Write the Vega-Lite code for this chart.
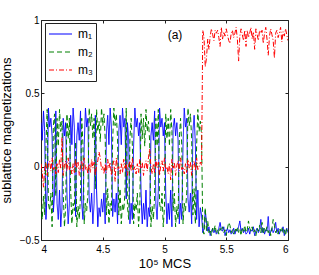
{
"$schema": "https://vega.github.io/schema/vega-lite/v6.json",
"width": 247, "height": 220,
"autosize": {"type": "none"},
"padding": {"left": 41, "top": 20, "right": 31, "bottom": 35},
"background": "white",
"config": {
  "font": "Liberation Sans",
  "view": {"stroke": "#222", "strokeWidth": 1},
  "axis": {"grid": false, "domain": false, "tickColor": "#222", "tickSize": -3, "labelColor": "#000", "titleColor": "#000", "labelFontSize": 10, "titleFontSize": 13, "titleFontWeight": "normal", "labelFont": "Liberation Sans", "titleFont": "Liberation Sans"}
},
"data": {"values": [
{"x":4.00,"m1":0.30,"m2":-0.27,"m3":0.02},
{"x":4.01,"m1":0.18,"m2":-0.36,"m3":-0.04},
{"x":4.02,"m1":0.38,"m2":-0.20,"m3":-0.14},
{"x":4.03,"m1":0.24,"m2":-0.33,"m3":-0.01},
{"x":4.04,"m1":-0.36,"m2":0.14,"m3":0.03},
{"x":4.05,"m1":-0.16,"m2":0.39,"m3":-0.06},
{"x":4.06,"m1":0.40,"m2":-0.25,"m3":0.01},
{"x":4.07,"m1":0.27,"m2":-0.30,"m3":0.04},
{"x":4.08,"m1":0.33,"m2":-0.18,"m3":-0.03},
{"x":4.09,"m1":0.21,"m2":-0.41,"m3":0.06},
{"x":4.10,"m1":-0.31,"m2":0.28,"m3":-0.02},
{"x":4.11,"m1":-0.18,"m2":0.36,"m3":0.00},
{"x":4.12,"m1":0.38,"m2":-0.20,"m3":-0.05},
{"x":4.13,"m1":-0.25,"m2":0.33,"m3":0.02},
{"x":4.14,"m1":-0.36,"m2":0.14,"m3":-0.04},
{"x":4.15,"m1":-0.16,"m2":0.39,"m3":0.05},
{"x":4.16,"m1":-0.41,"m2":0.24,"m3":-0.01},
{"x":4.17,"m1":-0.28,"m2":0.31,"m3":0.20},
{"x":4.18,"m1":0.33,"m2":-0.18,"m3":-0.06},
{"x":4.19,"m1":0.21,"m2":-0.41,"m3":0.01},
{"x":4.20,"m1":0.30,"m2":-0.27,"m3":0.04},
{"x":4.21,"m1":-0.18,"m2":0.36,"m3":-0.03},
{"x":4.22,"m1":-0.39,"m2":0.19,"m3":0.06},
{"x":4.23,"m1":-0.25,"m2":0.33,"m3":-0.02},
{"x":4.24,"m1":0.35,"m2":-0.15,"m3":0.00},
{"x":4.25,"m1":0.15,"m2":-0.39,"m3":-0.05},
{"x":4.26,"m1":0.40,"m2":-0.25,"m3":0.02},
{"x":4.27,"m1":0.27,"m2":-0.30,"m3":-0.04},
{"x":4.28,"m1":-0.34,"m2":0.17,"m3":0.05},
{"x":4.29,"m1":0.21,"m2":-0.41,"m3":-0.01},
{"x":4.30,"m1":0.30,"m2":-0.27,"m3":0.03},
{"x":4.31,"m1":0.18,"m2":-0.36,"m3":-0.06},
{"x":4.32,"m1":0.38,"m2":-0.20,"m3":0.01},
{"x":4.33,"m1":-0.25,"m2":0.33,"m3":0.04},
{"x":4.34,"m1":-0.36,"m2":0.14,"m3":-0.03},
{"x":4.35,"m1":0.15,"m2":-0.39,"m3":0.06},
{"x":4.36,"m1":0.40,"m2":-0.25,"m3":-0.02},
{"x":4.37,"m1":0.27,"m2":-0.30,"m3":0.00},
{"x":4.38,"m1":0.33,"m2":-0.18,"m3":-0.05},
{"x":4.39,"m1":-0.22,"m2":0.40,"m3":0.02},
{"x":4.40,"m1":-0.31,"m2":0.28,"m3":-0.04},
{"x":4.41,"m1":-0.18,"m2":0.36,"m3":0.05},
{"x":4.42,"m1":-0.39,"m2":0.19,"m3":-0.01},
{"x":4.43,"m1":-0.25,"m2":0.33,"m3":0.03},
{"x":4.44,"m1":0.35,"m2":-0.15,"m3":-0.06},
{"x":4.45,"m1":-0.16,"m2":0.39,"m3":0.01},
{"x":4.46,"m1":-0.41,"m2":0.24,"m3":0.04},
{"x":4.47,"m1":-0.28,"m2":0.31,"m3":0.10},
{"x":4.48,"m1":-0.34,"m2":0.17,"m3":0.06},
{"x":4.49,"m1":-0.22,"m2":0.40,"m3":-0.02},
{"x":4.50,"m1":-0.31,"m2":0.28,"m3":0.00},
{"x":4.51,"m1":-0.18,"m2":0.36,"m3":-0.05},
{"x":4.52,"m1":-0.39,"m2":0.19,"m3":0.02},
{"x":4.53,"m1":0.24,"m2":-0.33,"m3":-0.04},
{"x":4.54,"m1":0.35,"m2":-0.15,"m3":0.05},
{"x":4.55,"m1":0.15,"m2":-0.39,"m3":-0.01},
{"x":4.56,"m1":0.40,"m2":-0.25,"m3":0.03},
{"x":4.57,"m1":0.27,"m2":-0.30,"m3":-0.06},
{"x":4.58,"m1":-0.34,"m2":0.17,"m3":0.01},
{"x":4.59,"m1":-0.22,"m2":0.40,"m3":0.04},
{"x":4.60,"m1":-0.31,"m2":0.28,"m3":-0.10},
{"x":4.61,"m1":-0.18,"m2":0.36,"m3":0.06},
{"x":4.62,"m1":-0.39,"m2":0.19,"m3":-0.02},
{"x":4.63,"m1":0.24,"m2":-0.33,"m3":0.00},
{"x":4.64,"m1":0.35,"m2":-0.15,"m3":-0.05},
{"x":4.65,"m1":0.15,"m2":-0.39,"m3":0.02},
{"x":4.66,"m1":0.40,"m2":-0.25,"m3":-0.04},
{"x":4.67,"m1":0.27,"m2":-0.30,"m3":0.05},
{"x":4.68,"m1":0.33,"m2":-0.18,"m3":-0.01},
{"x":4.69,"m1":-0.22,"m2":0.40,"m3":0.03},
{"x":4.70,"m1":0.30,"m2":-0.27,"m3":-0.06},
{"x":4.71,"m1":0.18,"m2":-0.36,"m3":0.01},
{"x":4.72,"m1":-0.39,"m2":0.19,"m3":0.04},
{"x":4.73,"m1":-0.25,"m2":0.33,"m3":-0.03},
{"x":4.74,"m1":-0.36,"m2":0.14,"m3":0.06},
{"x":4.75,"m1":0.15,"m2":-0.39,"m3":-0.02},
{"x":4.76,"m1":0.40,"m2":-0.25,"m3":0.00},
{"x":4.77,"m1":0.27,"m2":-0.30,"m3":-0.05},
{"x":4.78,"m1":0.33,"m2":-0.18,"m3":0.02},
{"x":4.79,"m1":0.21,"m2":-0.41,"m3":-0.04},
{"x":4.80,"m1":0.30,"m2":-0.27,"m3":0.05},
{"x":4.81,"m1":-0.18,"m2":0.36,"m3":-0.01},
{"x":4.82,"m1":-0.39,"m2":0.19,"m3":0.03},
{"x":4.83,"m1":-0.25,"m2":0.33,"m3":-0.06},
{"x":4.84,"m1":-0.36,"m2":0.14,"m3":0.01},
{"x":4.85,"m1":-0.16,"m2":0.39,"m3":0.04},
{"x":4.86,"m1":-0.41,"m2":0.24,"m3":-0.03},
{"x":4.87,"m1":-0.28,"m2":0.31,"m3":0.06},
{"x":4.88,"m1":-0.34,"m2":0.17,"m3":0.12},
{"x":4.89,"m1":0.21,"m2":-0.41,"m3":0.00},
{"x":4.90,"m1":0.30,"m2":-0.27,"m3":-0.05},
{"x":4.91,"m1":0.18,"m2":-0.36,"m3":0.02},
{"x":4.92,"m1":0.38,"m2":-0.20,"m3":-0.04},
{"x":4.93,"m1":-0.25,"m2":0.33,"m3":0.05},
{"x":4.94,"m1":-0.36,"m2":0.14,"m3":-0.01},
{"x":4.95,"m1":-0.16,"m2":0.39,"m3":0.03},
{"x":4.96,"m1":0.40,"m2":-0.25,"m3":-0.06},
{"x":4.97,"m1":0.27,"m2":-0.30,"m3":0.01},
{"x":4.98,"m1":0.33,"m2":-0.18,"m3":0.04},
{"x":4.99,"m1":0.21,"m2":-0.41,"m3":-0.03},
{"x":5.00,"m1":0.30,"m2":-0.27,"m3":0.06},
{"x":5.01,"m1":-0.18,"m2":0.36,"m3":-0.02},
{"x":5.02,"m1":-0.39,"m2":0.19,"m3":0.00},
{"x":5.03,"m1":-0.25,"m2":0.33,"m3":-0.05},
{"x":5.04,"m1":-0.36,"m2":0.14,"m3":0.02},
{"x":5.05,"m1":-0.16,"m2":0.39,"m3":-0.09},
{"x":5.06,"m1":-0.41,"m2":0.24,"m3":0.05},
{"x":5.07,"m1":0.27,"m2":-0.30,"m3":-0.01},
{"x":5.08,"m1":0.33,"m2":-0.18,"m3":0.03},
{"x":5.09,"m1":0.21,"m2":-0.41,"m3":-0.06},
{"x":5.10,"m1":0.30,"m2":-0.27,"m3":0.01},
{"x":5.11,"m1":0.18,"m2":-0.36,"m3":0.04},
{"x":5.12,"m1":-0.39,"m2":0.19,"m3":-0.03},
{"x":5.13,"m1":-0.25,"m2":0.33,"m3":0.06},
{"x":5.14,"m1":-0.36,"m2":0.14,"m3":-0.02},
{"x":5.15,"m1":0.15,"m2":-0.39,"m3":0.00},
{"x":5.16,"m1":0.40,"m2":-0.25,"m3":-0.05},
{"x":5.17,"m1":0.27,"m2":-0.30,"m3":0.02},
{"x":5.18,"m1":0.33,"m2":-0.18,"m3":-0.04},
{"x":5.19,"m1":-0.22,"m2":0.40,"m3":0.05},
{"x":5.20,"m1":-0.31,"m2":0.28,"m3":-0.01},
{"x":5.21,"m1":-0.18,"m2":0.36,"m3":0.03},
{"x":5.22,"m1":-0.39,"m2":0.19,"m3":-0.06},
{"x":5.23,"m1":0.24,"m2":-0.33,"m3":0.01},
{"x":5.24,"m1":0.35,"m2":-0.15,"m3":0.04},
{"x":5.25,"m1":0.15,"m2":-0.39,"m3":-0.03},
{"x":5.26,"m1":-0.36,"m2":0.14,"m3":0.06},
{"x":5.27,"m1":-0.16,"m2":0.39,"m3":-0.02},
{"x":5.28,"m1":-0.41,"m2":0.24,"m3":0.00},
{"x":5.29,"m1":-0.28,"m2":0.31,"m3":0.03},
{"x":5.30,"m1":-0.33,"m2":0.22,"m3":0.01},
{"x":5.31,"m1":-0.45,"m2":-0.43,"m3":0.93},
{"x":5.32,"m1":-0.42,"m2":-0.46,"m3":0.88},
{"x":5.33,"m1":-0.30,"m2":-0.28,"m3":0.68},
{"x":5.34,"m1":-0.38,"m2":-0.44,"m3":0.74},
{"x":5.35,"m1":-0.44,"m2":-0.37,"m3":0.87},
{"x":5.36,"m1":-0.41,"m2":-0.45,"m3":0.80},
{"x":5.37,"m1":-0.47,"m2":-0.43,"m3":0.89},
{"x":5.38,"m1":-0.44,"m2":-0.47,"m3":0.94},
{"x":5.39,"m1":-0.42,"m2":-0.42,"m3":0.90},
{"x":5.40,"m1":-0.45,"m2":-0.44,"m3":0.86},
{"x":5.41,"m1":-0.43,"m2":-0.40,"m3":0.93},
{"x":5.42,"m1":-0.46,"m2":-0.45,"m3":0.91},
{"x":5.43,"m1":-0.45,"m2":-0.43,"m3":0.93},
{"x":5.44,"m1":-0.42,"m2":-0.46,"m3":0.88},
{"x":5.45,"m1":-0.38,"m2":-0.42,"m3":0.82},
{"x":5.46,"m1":-0.43,"m2":-0.44,"m3":0.95},
{"x":5.47,"m1":-0.44,"m2":-0.41,"m3":0.87},
{"x":5.48,"m1":-0.41,"m2":-0.45,"m3":0.92},
{"x":5.49,"m1":-0.47,"m2":-0.43,"m3":0.89},
{"x":5.50,"m1":-0.44,"m2":-0.47,"m3":0.94},
{"x":5.51,"m1":-0.42,"m2":-0.42,"m3":0.90},
{"x":5.52,"m1":-0.45,"m2":-0.38,"m3":0.86},
{"x":5.53,"m1":-0.43,"m2":-0.40,"m3":0.84},
{"x":5.54,"m1":-0.46,"m2":-0.45,"m3":0.91},
{"x":5.55,"m1":-0.45,"m2":-0.43,"m3":0.93},
{"x":5.56,"m1":-0.42,"m2":-0.46,"m3":0.88},
{"x":5.57,"m1":-0.46,"m2":-0.42,"m3":0.91},
{"x":5.58,"m1":-0.43,"m2":-0.44,"m3":0.95},
{"x":5.59,"m1":-0.44,"m2":-0.41,"m3":0.87},
{"x":5.60,"m1":-0.41,"m2":-0.45,"m3":0.72},
{"x":5.61,"m1":-0.37,"m2":-0.43,"m3":0.89},
{"x":5.62,"m1":-0.44,"m2":-0.47,"m3":0.94},
{"x":5.63,"m1":-0.42,"m2":-0.42,"m3":0.90},
{"x":5.64,"m1":-0.45,"m2":-0.44,"m3":0.86},
{"x":5.65,"m1":-0.43,"m2":-0.40,"m3":0.93},
{"x":5.66,"m1":-0.46,"m2":-0.45,"m3":0.82},
{"x":5.67,"m1":-0.45,"m2":-0.43,"m3":0.93},
{"x":5.68,"m1":-0.42,"m2":-0.37,"m3":0.88},
{"x":5.69,"m1":-0.46,"m2":-0.42,"m3":0.91},
{"x":5.70,"m1":-0.43,"m2":-0.44,"m3":0.95},
{"x":5.71,"m1":-0.44,"m2":-0.41,"m3":0.87},
{"x":5.72,"m1":-0.41,"m2":-0.45,"m3":0.92},
{"x":5.73,"m1":-0.47,"m2":-0.43,"m3":0.80},
{"x":5.74,"m1":-0.44,"m2":-0.47,"m3":0.94},
{"x":5.75,"m1":-0.42,"m2":-0.42,"m3":0.90},
{"x":5.76,"m1":-0.45,"m2":-0.44,"m3":0.86},
{"x":5.77,"m1":-0.43,"m2":-0.40,"m3":0.93},
{"x":5.78,"m1":-0.36,"m2":-0.45,"m3":0.91},
{"x":5.79,"m1":-0.45,"m2":-0.38,"m3":0.93},
{"x":5.80,"m1":-0.42,"m2":-0.46,"m3":0.84},
{"x":5.81,"m1":-0.46,"m2":-0.42,"m3":0.91},
{"x":5.82,"m1":-0.43,"m2":-0.44,"m3":0.95},
{"x":5.83,"m1":-0.44,"m2":-0.41,"m3":0.87},
{"x":5.84,"m1":-0.34,"m2":-0.45,"m3":0.76},
{"x":5.85,"m1":-0.47,"m2":-0.43,"m3":0.89},
{"x":5.86,"m1":-0.44,"m2":-0.47,"m3":0.94},
{"x":5.87,"m1":-0.42,"m2":-0.42,"m3":0.90},
{"x":5.88,"m1":-0.45,"m2":-0.36,"m3":0.86},
{"x":5.89,"m1":-0.43,"m2":-0.40,"m3":0.74},
{"x":5.90,"m1":-0.38,"m2":-0.45,"m3":0.91},
{"x":5.91,"m1":-0.45,"m2":-0.43,"m3":0.93},
{"x":5.92,"m1":-0.42,"m2":-0.46,"m3":0.88},
{"x":5.93,"m1":-0.46,"m2":-0.42,"m3":0.91},
{"x":5.94,"m1":-0.43,"m2":-0.44,"m3":0.95},
{"x":5.95,"m1":-0.44,"m2":-0.41,"m3":0.85},
{"x":5.96,"m1":-0.41,"m2":-0.45,"m3":0.92},
{"x":5.97,"m1":-0.47,"m2":-0.43,"m3":0.89},
{"x":5.98,"m1":-0.44,"m2":-0.47,"m3":0.94},
{"x":5.99,"m1":-0.42,"m2":-0.42,"m3":0.90},
{"x":6.00,"m1":-0.45,"m2":-0.44,"m3":0.86}
]},
"layer": [
  {
    "transform": [{"fold": ["m1"], "as": ["series", "value"]}],
    "mark": {"type": "line", "strokeWidth": 1, "clip": true},
    "encoding": {
      "x": {"field": "x", "type": "quantitative", "scale": {"domain": [4, 6], "nice": false}, "axis": {"values": [4, 4.5, 5, 5.5, 6], "format": "~g", "labelPadding": 7, "title": "10⁵ MCS", "titlePadding": 3}},
      "y": {"field": "value", "type": "quantitative", "scale": {"domain": [-0.5, 1], "nice": false, "zero": false}, "axis": {"values": [-0.5, 0, 0.5, 1], "format": "~g", "labelPadding": 5, "title": "sublattice magnetizations", "titlePadding": 6}},
      "color": {"field": "series", "type": "nominal", "scale": {"domain": ["m1", "m2", "m3"], "range": ["#0000ff", "#008000", "#ff0000"]},
        "legend": {"title": null, "orient": "none", "legendX": 4, "legendY": 3, "strokeColor": "#222", "fillColor": "white", "padding": 3, "symbolType": "stroke", "symbolSize": 529, "symbolStrokeWidth": 1.2, "clipHeight": 16, "rowPadding": 2, "labelFontSize": 12, "labelOffset": 5, "labelColor": "#000", "labelFont": "Liberation Sans", "cornerRadius": 0,
          "labelExpr": "datum.label == 'm1' ? 'm₁' : datum.label == 'm2' ? 'm₂' : 'm₃'"}},
      "strokeDash": {"field": "series", "type": "nominal", "scale": {"domain": ["m1", "m2", "m3"], "range": [[1, 0], [5, 3], [5, 2, 1, 2]]},
        "legend": {"title": null, "orient": "none", "legendX": 4, "legendY": 3, "strokeColor": "#222", "fillColor": "white", "padding": 3, "symbolType": "stroke", "symbolSize": 529, "symbolStrokeWidth": 1.2, "clipHeight": 16, "rowPadding": 2, "labelFontSize": 12, "labelOffset": 5, "labelColor": "#000", "labelFont": "Liberation Sans", "cornerRadius": 0,
          "labelExpr": "datum.label == 'm1' ? 'm₁' : datum.label == 'm2' ? 'm₂' : 'm₃'"}}
    }
  },
  {
    "transform": [{"fold": ["m2"], "as": ["series", "value"]}],
    "mark": {"type": "line", "strokeWidth": 1, "clip": true},
    "encoding": {
      "x": {"field": "x", "type": "quantitative", "axis": null},
      "y": {"field": "value", "type": "quantitative", "axis": null},
      "color": {"field": "series", "type": "nominal"},
      "strokeDash": {"field": "series", "type": "nominal"}
    }
  },
  {
    "transform": [{"fold": ["m3"], "as": ["series", "value"]}],
    "mark": {"type": "line", "strokeWidth": 1, "clip": true},
    "encoding": {
      "x": {"field": "x", "type": "quantitative", "axis": null},
      "y": {"field": "value", "type": "quantitative", "axis": null},
      "color": {"field": "series", "type": "nominal"},
      "strokeDash": {"field": "series", "type": "nominal"}
    }
  },
  {
    "data": {"values": [{"x": 5.085, "value": 0.9, "label": "(a)"}]},
    "mark": {"type": "text", "fontSize": 12, "font": "Liberation Sans", "color": "#000", "baseline": "middle", "align": "center"},
    "encoding": {
      "x": {"field": "x", "type": "quantitative", "axis": {"orient": "top", "labels": false, "title": null, "values": [4, 4.5, 5, 5.5, 6]}},
      "y": {"field": "value", "type": "quantitative", "axis": {"orient": "right", "labels": false, "title": null, "values": [-0.5, 0, 0.5, 1]}},
      "text": {"field": "label"}
    }
  }
],
"resolve": {"axis": {"x": "independent", "y": "independent"}}
}
